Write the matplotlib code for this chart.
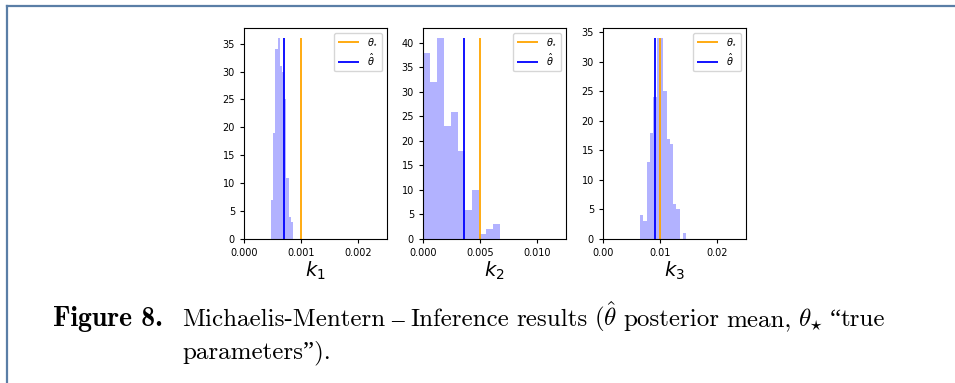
import numpy as np
import matplotlib
matplotlib.use("Agg")
import matplotlib.pyplot as plt
from matplotlib.ticker import MultipleLocator
from matplotlib.lines import Line2D

# posterior histograms (bin edges + counts)
k1_edges = [0.000468, 0.000509, 0.000550, 0.000591, 0.000626, 0.000661,
            0.000702, 0.000743, 0.000784, 0.000825, 0.000865]
k1_counts = [7, 19, 34, 36, 31, 30, 25, 11, 4, 3]

k2_edges = [0.0, 0.000615, 0.00123, 0.001845, 0.00246, 0.003075, 0.00369,
            0.004305, 0.00492, 0.005535, 0.00615, 0.006765]
k2_counts = [38, 32, 41, 23, 26, 18, 6, 10, 1, 2, 3]

k3_edges = [0.00649, 0.00707, 0.00764, 0.00822, 0.00880, 0.00938, 0.00995,
            0.01053, 0.01111, 0.01168, 0.01226, 0.01284, 0.01341, 0.01399,
            0.01457]
k3_counts = [4, 3, 13, 18, 24, 34, 34, 25, 17, 16, 6, 5, 0, 1]

theta_star = [0.001, 0.005, 0.01]
theta_hat = [0.000696, 0.00362, 0.00907]
x_max = [0.0025, 0.0125, 0.025]
param_labels = ["$k_1$", "$k_2$", "$k_3$"]

# caption words; each word is a list of (text, font) pieces
CM = 'cmr10'
SERIF = 'Liberation Serif'
caption_line1 = [
    [("Michaelis-Mentern", CM)],
    [("–", SERIF)],
    [("Inference", CM)],
    [("results", CM)],
    [(r"($\hat{\theta}$", CM)],
    [("posterior", CM)],
    [("mean,", CM)],
    [(r"$\theta_{\star}$", CM)],
    [("“", SERIF), ("true", CM)],
]
caption_line2 = "parameters”)."

plt.rcParams['mathtext.fontset'] = 'dejavusans'

W, H = 955, 383
fig = plt.figure(figsize=(W / 100, H / 100), dpi=100)

# page frame (left and top edge only)
frame_color = '#5a7ea6'
fig.add_artist(Line2D([7 / W, 7 / W], [0, 1 - 6 / H], color=frame_color, lw=1.6))
fig.add_artist(Line2D([7 / W, 1], [1 - 6 / H, 1 - 6 / H], color=frame_color, lw=1.6))

lefts = [244, 423, 603]
ax_w, ax_top, ax_bot = 143, 28, 239

all_edges = [k1_edges, k2_edges, k3_edges]
all_counts = [k1_counts, k2_counts, k3_counts]

for i in range(3):
    ax = fig.add_axes([lefts[i] / W, (H - ax_bot) / H, ax_w / W, (ax_bot - ax_top) / H])
    edges = np.array(all_edges[i])
    counts = np.array(all_counts[i])
    ax.hist(edges[:-1], bins=edges, weights=counts, color='blue', alpha=0.3)
    top = counts.max()
    ax.vlines(theta_star[i], 0, top, color='orange', lw=1.3, label=r'$\theta_{\star}$')
    ax.vlines(theta_hat[i], 0, top, color='blue', lw=1.3, label=r'$\hat{\theta}$')
    ax.set_xlim(0, x_max[i])
    ax.set_xticks([0, x_max[i] * 0.4, x_max[i] * 0.8])
    ax.yaxis.set_major_locator(MultipleLocator(5))
    ax.tick_params(labelsize=7, length=3, width=0.8)
    for s in ax.spines.values():
        s.set_linewidth(0.8)
    ax.set_xlabel(param_labels[i], fontsize=14, labelpad=1)
    ax.legend(loc='upper right', fontsize=7, handlelength=2.2, borderpad=0.4,
              labelspacing=0.3)

# caption, computer-modern look, first line justified like LaTeX
plt.rcParams['mathtext.fontset'] = 'cm'
cap_size = 18
base1 = 1 - 326 / H
base2 = 1 - 358 / H
fig.text(53 / W, base1, "Figure 8.", fontsize=20, fontweight='bold',
         family=['cmb10', SERIF], va='baseline')

renderer = fig.canvas.get_renderer()
line_left, line_right = 182, 885

# measure words first
word_artists = []
total_w = 0
for word in caption_line1:
    pieces = []
    for txt, fam in word:
        t = fig.text(0, base1, txt, fontsize=cap_size, family=fam, va='baseline')
        w = t.get_window_extent(renderer).width
        pieces.append((t, w))
        total_w += w
    word_artists.append(pieces)

gap = (line_right - line_left - total_w) / (len(caption_line1) - 1)
x = line_left
for pieces in word_artists:
    for t, w in pieces:
        t.set_x(x / W)
        x += w
    x += gap

fig.text(line_left / W, base2, caption_line2, fontsize=cap_size, family=[CM, SERIF],
         va='baseline')

fig.savefig("out.png", dpi=100)
